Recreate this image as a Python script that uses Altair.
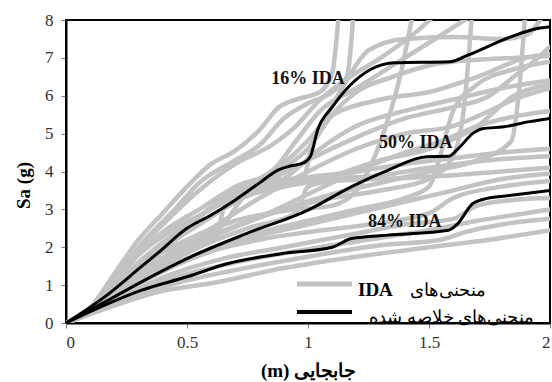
import altair as alt
import pandas as pd

# ---------------- data ----------------
ida_01 = [(0,0),(0.1,0.4),(0.2,1.3),(0.3,2.2),(0.4,2.9),(0.5,3.6),(0.6,4.2),(0.7,4.55),(0.8,5.1),(0.88,5.7),(0.95,5.9),(1.05,6.1),(1.1,6.6),(1.13,8.4)]
ida_02 = [(0,0),(0.1,0.35),(0.2,1.1),(0.3,2.0),(0.45,3.0),(0.55,3.7),(0.7,4.3),(0.8,4.7),(0.9,5.4),(1.0,5.8),(1.1,6.1),(1.16,6.5),(1.18,7.5),(1.19,8.4)]
ida_03 = [(0,0),(0.1,0.4),(0.25,1.6),(0.4,2.6),(0.55,3.5),(0.7,4.2),(0.85,4.7),(0.95,5.2),(1.05,5.9),(1.15,6.4),(1.3,7.0),(1.45,7.7),(1.52,8.1)]
ida_04 = [(0,0),(0.12,0.5),(0.25,1.5),(0.4,2.4),(0.55,3.0),(0.7,3.6),(0.85,4.0),(0.95,4.8),(1.05,5.6),(1.2,6.2),(1.35,6.8),(1.5,7.4),(1.66,8.05)]
ida_05 = [(0,0),(0.12,0.45),(0.3,1.8),(0.45,2.5),(0.6,3.0),(0.8,3.8),(0.95,4.5),(1.05,5.2),(1.15,6.3),(1.25,7.2),(1.4,7.5),(1.6,7.55),(1.8,7.5),(1.9,7.6),(1.97,8.1)]
ida_06 = [(0,0),(0.12,0.4),(0.3,1.6),(0.5,2.6),(0.7,3.4),(0.9,4.1),(1.0,4.6),(1.1,5.5),(1.2,6.1),(1.35,6.5),(1.5,6.8),(1.7,6.95),(1.85,7.0),(2.0,7.05)]
ida_07 = [(0,0),(0.15,0.55),(0.35,1.8),(0.55,2.6),(0.8,3.6),(1.0,4.3),(1.2,4.9),(1.4,5.4),(1.6,5.7),(1.75,6.0),(1.85,6.5),(1.95,7.0),(2.0,7.3)]
ida_08 = [(0,0),(0.12,0.4),(0.3,1.5),(0.5,2.4),(0.7,3.2),(0.9,3.8),(1.05,4.6),(1.2,5.2),(1.4,5.6),(1.6,5.9),(1.8,6.2),(2.0,6.4)]
ida_09 = [(0,0),(0.15,0.5),(0.35,1.5),(0.6,2.5),(0.8,3.3),(1.0,4.0),(1.2,4.6),(1.4,5.0),(1.6,5.2),(1.75,5.6),(1.85,5.9),(2.0,6.2)]
ida_10 = [(0,0),(0.15,0.5),(0.4,1.7),(0.6,2.3),(0.8,2.8),(1.0,3.4),(1.2,4.0),(1.4,4.5),(1.55,4.8),(1.7,5.2),(1.85,5.45),(2.0,5.6)]
ida_11 = [(0,0),(0.15,0.5),(0.35,1.4),(0.6,2.3),(0.85,2.9),(1.1,3.4),(1.3,3.7),(1.5,4.0),(1.7,4.3),(1.84,4.8),(1.87,6.0),(1.9,8.4)]
ida_12 = [(0,0),(0.15,0.5),(0.4,1.6),(0.65,2.4),(0.9,3.0),(1.1,3.3),(1.3,3.5),(1.5,3.8),(1.6,4.4),(1.65,6.0),(1.68,8.4)]
ida_13 = [(0,0),(0.15,0.45),(0.4,1.4),(0.7,2.2),(1.0,2.7),(1.2,3.0),(1.4,3.3),(1.5,3.6),(1.55,4.5),(1.6,5.6),(1.7,6.3),(1.85,6.7),(2.0,6.9)]
ida_14 = [(0,0),(0.12,0.45),(0.3,1.5),(0.5,2.2),(0.7,2.7),(0.95,3.0),(1.1,3.1),(1.2,3.5),(1.3,4.8),(1.38,6.5),(1.44,8.4)]
ida_15 = [(0,0),(0.15,0.5),(0.35,1.6),(0.5,2.5),(0.65,3.3),(0.8,3.7),(1.0,3.85),(1.2,4.0),(1.4,4.2),(1.6,4.35),(1.8,4.5),(2.0,4.6)]
ida_16 = [(0,0),(0.15,0.5),(0.35,1.5),(0.5,2.1),(0.65,2.6),(0.75,3.4),(0.9,3.6),(1.1,3.8),(1.3,3.9),(1.5,4.1),(1.75,4.3),(2.0,4.4)]
ida_17 = [(0,0),(0.15,0.45),(0.35,1.3),(0.55,2.0),(0.75,2.5),(0.95,2.9),(1.0,3.6),(1.1,3.75),(1.3,3.8),(1.6,3.9),(1.8,4.0),(2.0,4.1)]
ida_18 = [(0,0),(0.15,0.4),(0.35,1.2),(0.6,1.9),(0.8,2.3),(1.0,2.6),(1.2,2.9),(1.4,3.2),(1.6,3.5),(1.8,3.8),(2.0,3.95)]
ida_19 = [(0,0),(0.15,0.45),(0.4,1.4),(0.6,1.9),(0.8,2.2),(1.0,2.4),(1.25,2.6),(1.5,2.9),(1.6,3.3),(1.8,3.6),(2.0,3.75)]
ida_20 = [(0,0),(0.15,0.4),(0.4,1.2),(0.65,1.7),(0.9,2.0),(1.15,2.3),(1.4,2.6),(1.6,2.75),(1.7,3.1),(1.85,3.25),(2.0,3.3)]
ida_21 = [(0,0),(0.15,0.4),(0.4,1.1),(0.7,1.6),(1.0,1.95),(1.3,2.25),(1.5,2.45),(1.7,2.7),(1.9,2.9),(2.0,3.0)]
ida_22 = [(0,0),(0.15,0.35),(0.4,0.95),(0.7,1.4),(1.0,1.75),(1.3,2.05),(1.55,2.2),(1.65,2.4),(1.8,2.6),(2.0,2.75)]
ida_23 = [(0,0),(0.15,0.35),(0.4,0.85),(0.6,1.05),(0.9,1.45),(1.2,1.75),(1.5,2.0),(1.75,2.2),(2.0,2.45)]
ida_24 = [(0,0),(0.12,0.45),(0.3,1.5),(0.45,2.0),(0.55,2.1),(0.62,2.3),(0.66,3.2),(0.75,3.6),(0.9,3.7),(1.05,3.8),(1.3,4.3),(1.5,4.6),(1.7,5.2),(1.85,6.0),(2.0,6.3)]
ida_25 = [(0,0),(0.15,0.5),(0.35,1.7),(0.5,2.6),(0.7,3.3),(0.9,3.6),(0.98,3.8),(1.02,4.8),(1.08,5.4),(1.3,5.9),(1.5,6.1),(1.7,6.5),(1.9,7.0),(2.0,7.1)]

summary_16 = [(0,0),(0.16,0.69),(0.31,1.48),(0.38,1.85),(0.5,2.5),(0.6,2.85),(0.7,3.25),(0.8,3.7),(0.88,4.05),(0.93,4.15),(0.98,4.22),(1.01,4.4),(1.04,5.1),(1.1,5.7),(1.17,6.25),(1.26,6.7),(1.36,6.87),(1.59,6.9),(1.66,7.07),(1.84,7.56),(1.93,7.75),(2.0,7.82)]
summary_50 = [(0,0),(0.16,0.55),(0.31,1.08),(0.5,1.7),(0.745,2.36),(1.0,2.98),(1.18,3.6),(1.33,4.03),(1.49,4.39),(1.58,4.4),(1.62,4.6),(1.68,5.0),(1.72,5.13),(1.81,5.18),(1.91,5.31),(2.0,5.4)]
summary_84 = [(0,0),(0.16,0.47),(0.31,0.86),(0.5,1.22),(0.67,1.57),(0.89,1.83),(1.1,2.0),(1.18,2.23),(1.33,2.32),(1.58,2.45),(1.62,2.63),(1.68,3.15),(1.74,3.29),(1.84,3.37),(2.0,3.5)]

annot_labels = ["16% IDA", "50% IDA", "84% IDA"]
annot_x = [1.0, 1.445, 1.40]
annot_y = [6.45, 4.75, 2.67]

x_ticks = [0, 0.5, 1, 1.5, 2]
y_ticks = [0, 1, 2, 3, 4, 5, 6, 7, 8]
x_title = "(m) جابجایی"
y_title = "Sa (g)"
legend_ida_bold = "IDA"
legend_ida_fa = "منحنی‌های"
legend_summary = "منحنی‌های خلاصه شده"

# ---------------- tables ----------------
gray_curves = [ida_01, ida_02, ida_03, ida_04, ida_05, ida_06, ida_07, ida_08, ida_09,
               ida_10, ida_11, ida_12, ida_13, ida_14, ida_15, ida_16, ida_17, ida_18,
               ida_19, ida_20, ida_21, ida_22, ida_23, ida_24, ida_25]
rows = []
for i, c in enumerate(gray_curves):
    for j, (x, y) in enumerate(c):
        rows.append({"curve": f"g{i:02d}", "i": j, "x": x, "y": y})
gray_df = pd.DataFrame(rows)

rows = []
for name, c in [("16", summary_16), ("50", summary_50), ("84", summary_84)]:
    for j, (x, y) in enumerate(c):
        rows.append({"curve": name, "i": j, "x": x, "y": y})
black_df = pd.DataFrame(rows)

annot_df = pd.DataFrame({"label": annot_labels, "x": annot_x, "y": annot_y})

SERIF = "Liberation Serif, Times New Roman, serif"
W, H = 484, 303

xscale = alt.Scale(domain=[0, 2], nice=False, zero=False)
yscale = alt.Scale(domain=[0, 8], nice=False, zero=True)
xaxis = alt.Axis(values=x_ticks, format="~g", title=x_title, grid=False, labelOverlap=False,
                 titleY=53, titleBaseline="alphabetic")
yaxis = alt.Axis(values=y_ticks, tickCount=9, format="d", title=y_title, grid=False, labelOverlap=False,
                 titleX=-43, titleY=165, titleBaseline="middle", titleAlign="center")

enc_x = alt.X("x:Q", scale=xscale, axis=xaxis)
enc_y = alt.Y("y:Q", scale=yscale, axis=yaxis)

gray = alt.Chart(gray_df).mark_line(
    color="#c3c3c3", strokeWidth=4.5, interpolate="monotone", clip=True,
    strokeCap="round", strokeJoin="round"
).encode(x=enc_x, y=enc_y, detail="curve:N", order="i:Q")

black = alt.Chart(black_df).mark_line(
    color="black", strokeWidth=3, interpolate="monotone", clip=True
).encode(x=enc_x, y=enc_y, detail="curve:N", order="i:Q")

annots = alt.Chart(annot_df).mark_text(
    font=SERIF, fontWeight="bold", fontSize=18, color="#111111",
    align="center", baseline="middle"
).encode(x=enc_x, y=enc_y, text="label:N")

one = pd.DataFrame({"a": [0]})
leg_gray = alt.Chart(one).mark_rule(color="#c3c3c3", strokeWidth=5).encode(
    x=alt.value(231), x2=alt.value(286), y=alt.value(264))
leg_black = alt.Chart(one).mark_rule(color="black", strokeWidth=4).encode(
    x=alt.value(231), x2=alt.value(286), y=alt.value(292))
leg_t1 = alt.Chart(pd.DataFrame({"t": [legend_ida_bold]})).mark_text(
    font=SERIF, fontWeight="bold", fontSize=19, align="left", baseline="middle", color="black"
).encode(text="t:N", x=alt.value(292), y=alt.value(270))
leg_t2 = alt.Chart(pd.DataFrame({"t": [legend_ida_fa]})).mark_text(
    font=SERIF, fontSize=18, align="right", baseline="middle", color="black"
).encode(text="t:N", x=alt.value(420), y=alt.value(271))
leg_t3 = alt.Chart(pd.DataFrame({"t": [legend_summary]})).mark_text(
    font=SERIF, fontSize=18, align="right", baseline="middle", color="black"
).encode(text="t:N", x=alt.value(468), y=alt.value(298))

chart = alt.layer(gray, black, annots, leg_gray, leg_black, leg_t1, leg_t2, leg_t3).properties(
    width=W, height=H,
    padding={"left": 66, "top": 20, "right": 2, "bottom": 59},
    autosize=alt.AutoSizeParams(type="none"),
).configure_view(
    stroke="black", strokeWidth=2
).configure_axis(
    domainColor="black", domainWidth=2,
    tickColor="#777777", tickSize=5, tickWidth=1,
    labelFont=SERIF, labelFontSize=17, labelColor="#333333",
    titleFont=SERIF, titleFontSize=19, titleFontWeight="bold", titleColor="black",
).configure_axisY(
    labelPadding=8
).configure_axisX(
    labelPadding=6
)

chart.save("out.html", embed_options={"renderer": "svg", "actions": False})
